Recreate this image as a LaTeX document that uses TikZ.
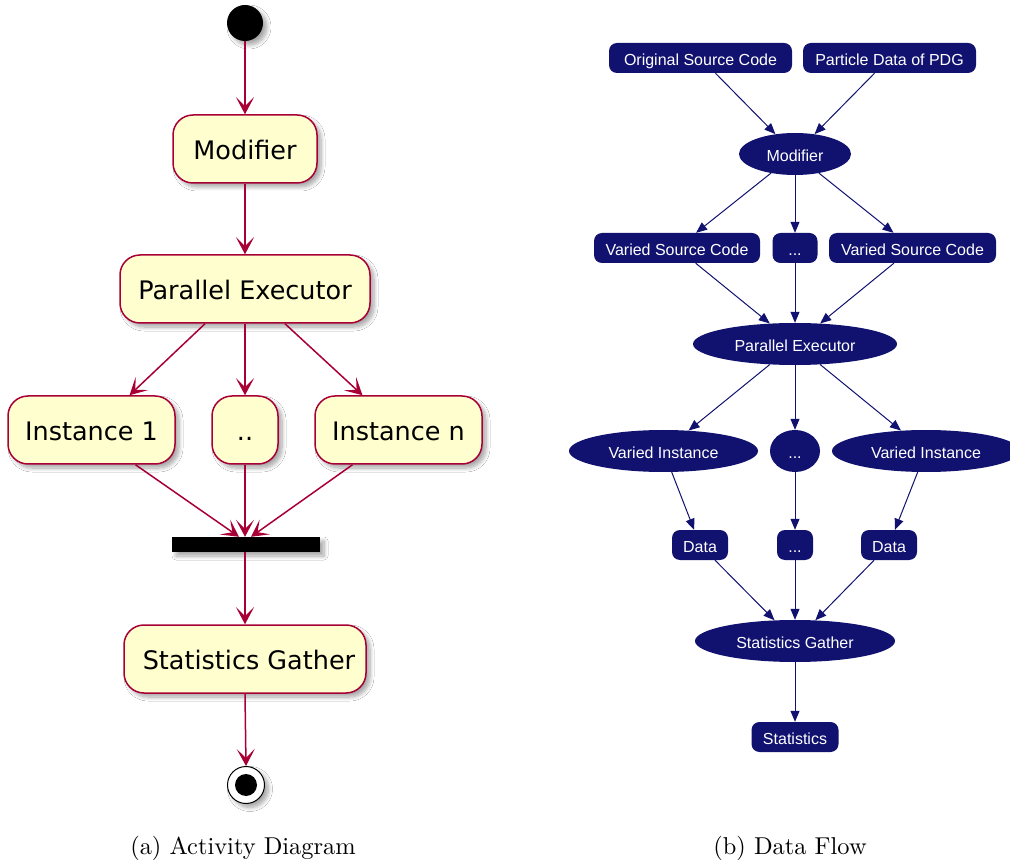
\documentclass[tikz,border=0pt]{standalone}
\usepackage{fontspec}
\newfontfamily\dvfont{DejaVu Sans}
\newfontfamily\arfont{Liberation Sans}
\usetikzlibrary{arrows.meta,shapes.geometric,shadows.blur}
\definecolor{umlred}{HTML}{A80036}
\definecolor{umlfill}{HTML}{FEFECE}
\definecolor{dnavy}{RGB}{17,17,112}
\begin{document}
\begin{tikzpicture}[x=1pt,y=-1pt,
 ushadow/.style={blur shadow={shadow xshift=4pt,shadow yshift=-4pt,shadow blur steps=8,shadow blur radius=4pt,shadow opacity=35}},
 act/.style={draw=umlred, fill=umlfill, line width=1.5pt, rounded corners=20pt, minimum height=68pt, inner sep=0pt, text height=21pt, text depth=0pt, font=\dvfont\fontsize{25.5}{30}\selectfont, ushadow},
 uarr/.style={draw=umlred, line width=1.5pt, -{Stealth[length=17pt,width=18pt,inset=9pt,fill=umlred]}},
 dbox/.style={fill=dnavy, rounded corners=8pt, minimum height=30pt, inner sep=0pt, text height=14.5pt, text depth=0pt, text=white, font=\arfont\fontsize{16}{19}\selectfont},
 dell/.style={ellipse, fill=dnavy, minimum height=42pt, inner sep=0pt, text height=14.5pt, text depth=0pt, text=white, font=\arfont\fontsize{16}{19}\selectfont},
 darr/.style={draw=dnavy, line width=1pt, -{Triangle[length=11pt,width=9pt]}},
 captext/.style={inner sep=0pt}
]
\fill[white] (0,0) rectangle (1010,866);
\useasboundingbox (0,0) rectangle (1010,866);

% ---------- (a) activity diagram ----------
\node[circle, fill=black, minimum size=36pt, inner sep=0pt, ushadow] (start) at (245,23) {};
\node[act, minimum width=144pt] (mod) at (245,149) {Modifier};
\node[act, minimum width=250pt] (pe) at (245,289) {Parallel Executor};
\node[act, minimum width=167pt] (i1) at (91.5,430) {Instance 1};
\node[act, minimum width=66pt] (idots) at (245,430) {..};
\node[act, minimum width=167pt] (in) at (398.5,430) {Instance n};
\node[fill=black, minimum width=148pt, minimum height=15pt, inner sep=0pt, ushadow] (bar) at (246,544.5) {};
\node[act, minimum width=242pt] (sg) at (245,659) {\hspace*{8pt}Statistics Gather};
\node[circle, draw=black, fill=white, line width=1pt, minimum size=37pt, inner sep=0pt, ushadow] (end) at (246,785) {};
\node[circle, fill=black, minimum size=22pt, inner sep=0pt] (endin) at (end.center) {};

\draw[uarr] (start) -- (mod);
\draw[uarr] (mod) -- (pe);
\draw[uarr] ([xshift=-40pt]pe.south) -- ([xshift=38pt]i1.north);
\draw[uarr] (pe.south) -- (idots.north);
\draw[uarr] ([xshift=40pt]pe.south) -- ([xshift=-36pt]in.north);
\draw[uarr] ([xshift=44pt]i1.south) -- ([xshift=-7pt]bar.north);
\draw[uarr] (idots.south) -- ([xshift=-1pt]bar.north);
\draw[uarr] ([xshift=-46pt]in.south) -- ([xshift=5pt]bar.north);
\draw[uarr] ([xshift=-1pt]bar.south) -- (sg.north);
\draw[uarr] (sg.south) -- (end.north);

% ---------- (b) data flow ----------
\node[dbox, minimum width=183pt] (osc) at (700.5,58) {Original Source Code};
\node[dbox, minimum width=173pt] (pdg) at (889.5,58) {Particle Data of PDG};
\node[dell, minimum width=112pt] (dmod) at (795,154) {Modifier};
\node[dbox, minimum width=166pt] (vs1) at (677,248) {Varied Source Code};
\node[dbox, minimum width=45pt] (vsd) at (795,248) {...};
\node[dbox, minimum width=167pt] (vs2) at (912.5,248) {Varied Source Code};
\node[dell, minimum width=204pt] (dpe) at (795,344) {Parallel Executor};
\node[dell, minimum width=189pt] (vi1) at (663.5,451) {Varied Instance};
\node[dell, minimum width=50pt] (vid) at (795,451) {...};
\node[dell, minimum width=188pt] (vi2) at (926,451) {Varied Instance};
\node[dbox, minimum width=56pt] (d1) at (700,545) {Data};
\node[dbox, minimum width=36pt] (dd) at (795,545) {...};
\node[dbox, minimum width=56pt] (d2) at (889,545) {Data};
\node[dell, minimum width=200pt] (dsg) at (795,641) {Statistics Gather};
\node[dbox, minimum width=87pt] (st) at (795,737) {Statistics};

\draw[darr] (osc) -- (dmod);
\draw[darr] (pdg) -- (dmod);
\draw[darr] (dmod) -- (vs1);
\draw[darr] (dmod) -- (vsd);
\draw[darr] (dmod) -- (vs2);
\draw[darr] (vs1) -- (dpe);
\draw[darr] (vsd) -- (dpe);
\draw[darr] (vs2) -- (dpe);
\draw[darr] (dpe) -- (vi1);
\draw[darr] (dpe) -- (vid);
\draw[darr] (dpe) -- (vi2);
\draw[darr] (vi1) -- (d1);
\draw[darr] (vid) -- (dd);
\draw[darr] (vi2) -- (d2);
\draw[darr] (d1) -- (dsg);
\draw[darr] (dd) -- (dsg);
\draw[darr] (d2) -- (dsg);
\draw[darr] (dsg) -- (st);

% ---------- captions ----------
\node[captext] (capa) at (243,848) {\scalebox{2.44}{(a) Activity Diagram}};
\node[captext] (capb) at (790,848) {\scalebox{2.44}{(b) Data Flow}};
\end{tikzpicture}
\end{document}
